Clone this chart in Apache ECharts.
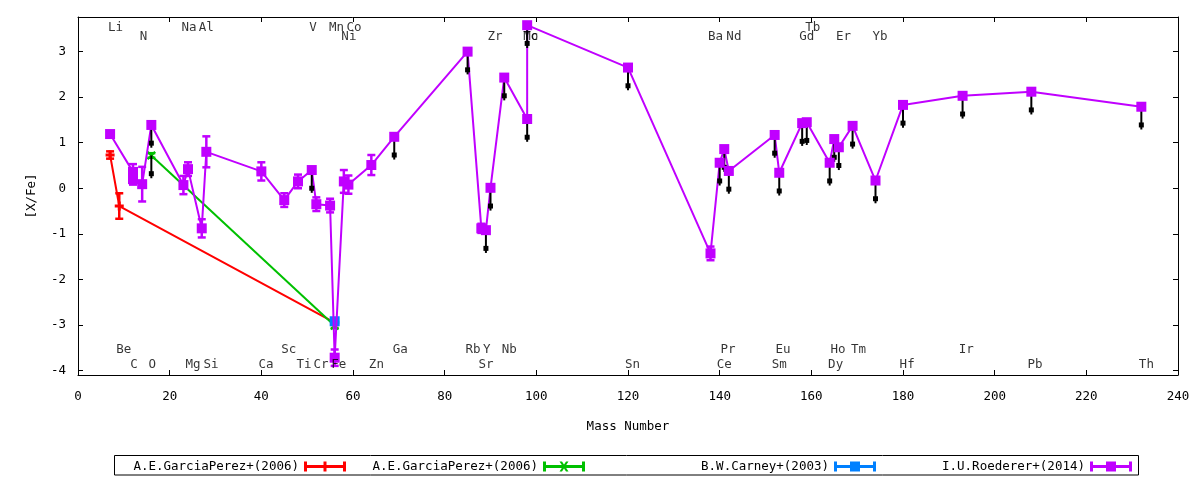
<!DOCTYPE html>
<html>
<head>
<meta charset="utf-8">
<title>[X/Fe] vs Mass Number</title>
<script src="https://cdn.jsdelivr.net/npm/echarts@6/dist/echarts.min.js"></script>
<style>
html, body { margin: 0; padding: 0; background: #fff; }
#chart { width: 1200px; height: 480px; }
</style>
</head>
<body>
<div id="chart"></div>
<script>
// A.E.GarciaPerez+(2006), red
var redMass = [7, 9, 56];
var redVal  = [0.73, -0.39, -2.95];
var redErr  = [0.08, 0.28, 0.05];

// A.E.GarciaPerez+(2006), green
var greenMass = [16, 56];
var greenVal  = [0.72, -3.02];
var greenErr  = [0.05, 0.05];

// B.W.Carney+(2003)
var blueMass = [56];
var blueVal  = [-2.92];
var blueErr  = [0.05];

// I.U.Roederer+(2014)
var purpleMass = [7, 12, 12, 14, 16, 23, 24, 27, 28, 40, 45, 48, 51, 52, 55, 56, 58, 59, 64, 69,
                  85, 88, 89, 90, 93, 98, 98, 120, 138, 140, 141, 142, 152, 153, 158, 159,
                  164, 165, 166, 169, 174, 180, 193, 208, 232];
var purpleVal  = [1.19, 0.36, 0.20, 0.09, 1.39, 0.07, 0.42, -0.88, 0.80, 0.37, -0.26, 0.15, 0.40, -0.35, -0.38, -3.72, 0.15, 0.08, 0.51, 1.13,
                  3.00, -0.88, -0.92, 0.01, 2.43, 1.52, 3.58, 2.65, -1.43, 0.56, 0.86, 0.38, 1.17, 0.34, 1.43, 1.45,
                  0.56, 1.08, 0.90, 1.37, 0.17, 1.83, 2.03, 2.12, 1.79];
var purpleErr  = [0, 0.17, 0.12, 0.38, 0, 0.20, 0.15, 0.20, 0.34, 0.20, 0.15, 0.15, 0, 0.15, 0.15, 0.18, 0.25, 0.20, 0.22, 0,
                  0, 0.10, 0, 0, 0, 0, 0, 0, 0.15, 0, 0, 0, 0, 0, 0, 0,
                  0, 0, 0, 0, 0, 0, 0, 0, 0];

// upper limit arrows (start value, pointing down)
var limitMass = [16, 16, 51, 69, 85, 89, 90, 93, 98, 98, 120, 140, 141, 142, 152, 153, 158, 159,
                 164, 165, 166, 169, 174, 180, 193, 208, 232];
var limitVal  = [1.39, 0.72, 0.40, 1.13, 3.00, -0.92, 0.01, 2.43, 1.52, 3.58, 2.65, 0.56, 0.86, 0.38, 1.17, 0.34, 1.43, 1.45,
                 0.56, 1.08, 0.90, 1.37, 0.17, 1.83, 2.03, 2.12, 1.79];
var limitLen = 0.5;

// element labels: name, x position (mass), row (0,1 top; 2,3 bottom)
var elemNames = ['Li', 'Na', 'Al', 'V', 'Mn', 'Co', 'Tb',
                 'N', 'Ni', 'Zr', 'Mo', 'Tc', 'Ba', 'Nd', 'Gd', 'Er', 'Yb',
                 'Be', 'Sc', 'Ga', 'Rb', 'Y', 'Nb', 'Pr', 'Eu', 'Ho', 'Tm', 'Ir',
                 'C', 'O', 'Mg', 'Si', 'Ca', 'Ti', 'Cr', 'Fe', 'Zn', 'Sr', 'Sn', 'Ce', 'Sm', 'Dy', 'Hf', 'Pb', 'Th'];
var elemPos   = [8.2, 24.2, 28.0, 51.3, 56.4, 60.2, 160.3,
                 14.3, 59.1, 91.0, 98.8, 98.8, 139.1, 143.1, 159.0, 167.0, 175.0,
                 10.0, 46.0, 70.3, 86.2, 89.2, 94.1, 141.8, 153.8, 165.8, 170.3, 193.8,
                 12.2, 16.2, 25.1, 29.0, 41.0, 49.3, 53.0, 56.9, 65.1, 89.0, 121.0, 141.0, 153.0, 165.3, 180.9, 208.8, 233.1];
var elemRow   = [0, 0, 0, 0, 0, 0, 0,
                 1, 1, 1, 1, 1, 1, 1, 1, 1, 1,
                 2, 2, 2, 2, 2, 2, 2, 2, 2, 2, 2,
                 3, 3, 3, 3, 3, 3, 3, 3, 3, 3, 3, 3, 3, 3, 3, 3, 3];

var yTicks = [-4, -3, -2, -1, 0, 1, 2, 3];

var FONT = 'DejaVu Sans Mono';
var FS = 12.5;
var RED = '#ff0000', GREEN = '#00c000', BLUE = '#0080ff', PURPLE = '#c000ff';
var rowY = [3.525, 3.316, -3.545, -3.864];

var plusSym = 'path://M3,0h3v3h3v3h-3v3h-3v-3h-3v-3h3z';
var crossSym = 'path://M0,1.5L1.5,0L4.5,3L7.5,0L9,1.5L6,4.5L9,7.5L7.5,9L4.5,6L1.5,9L0,7.5L3,4.5z';
var barBase = 'M0,0h3v10h-3z M39,0h3v10h-3z M0,3.5h42v3h-42z ';
var iconPlus = 'path://' + barBase + 'M19.5,0h3v10h-3z';
var iconCross = 'path://' + barBase + 'M16.5,0h2.5l6.5,10h-2.5z M23,0h2.5l-6.5,10h-2.5z';
var iconBox = 'path://' + barBase + 'M16,0h10v10h-10z';

function zip(a, b, c) {
	return a.map(function (v, i) { return c ? [v, b[i], c[i]] : [v, b[i]]; });
}

function errorBars(color) {
	return function (params, api) {
		var e = api.value(2);
		if (!e) return null;
		var x = api.value(0), y = api.value(1);
		var hi = api.coord([x, y + e]), lo = api.coord([x, y - e]);
		var w = 4, st = { stroke: color, lineWidth: 2.5 };
		return {
			type: 'group',
			children: [
				{ type: 'line', shape: { x1: hi[0], y1: hi[1], x2: lo[0], y2: lo[1] }, style: st },
				{ type: 'line', shape: { x1: hi[0] - w, y1: hi[1], x2: hi[0] + w, y2: hi[1] }, style: st },
				{ type: 'line', shape: { x1: lo[0] - w, y1: lo[1], x2: lo[0] + w, y2: lo[1] }, style: st }
			]
		};
	};
}

function limitArrow(params, api) {
	var x = api.value(0), y = api.value(1);
	var p0 = api.coord([x, y]), p1 = api.coord([x, y - limitLen]), h = api.coord([x, y - limitLen * 0.8]);
	return {
		type: 'group',
		children: [
			{ type: 'line', shape: { x1: p0[0], y1: p0[1], x2: p1[0], y2: p1[1] }, style: { stroke: '#000', lineWidth: 2 } },
			{ type: 'rect', shape: { x: h[0] - 2.5, y: h[1] - 2.5, width: 5, height: 5 }, style: { fill: '#000' } }
		]
	};
}

function legendAt(name, icon, color, right) {
	return {
		right: right, top: 460, padding: 0, align: 'right',
		itemWidth: 42, itemHeight: 10, selectedMode: false,
		textStyle: { color: '#000', fontFamily: FONT, fontSize: FS },
		data: [{ name: name, icon: icon, itemStyle: { color: color, borderWidth: 0 } }]
	};
}

var axisLine = { onZero: false, lineStyle: { color: '#000', width: 1 } };
var axisTick = { inside: true, length: 5, lineStyle: { color: '#000' } };

var chart = echarts.init(document.getElementById('chart'));
var option = {
	animation: false,
	backgroundColor: '#fff',
	grid: { left: 78, right: 22, top: 17, bottom: 105, outerBoundsMode: 'none' },
	legend: [
		legendAt('A.E.GarciaPerez+(2006)', iconPlus, RED, 854),
		legendAt('A.E.GarciaPerez+(2006)', iconCross, GREEN, 615),
		legendAt('B.W.Carney+(2003)', iconBox, BLUE, 324),
		legendAt('I.U.Roederer+(2014)', iconBox, PURPLE, 68)
	],
	graphic: [{
		type: 'rect', shape: { x: 114.5, y: 455.5, width: 1024, height: 19.5 },
		style: { fill: 'none', stroke: '#000', lineWidth: 1 }, silent: true
	}],
	xAxis: [{
		type: 'value', min: 0, max: 240, interval: 20, position: 'bottom',
		name: 'Mass Number', nameLocation: 'middle', nameGap: 45,
		nameTextStyle: { color: '#000', fontFamily: FONT, fontSize: FS },
		axisLine: axisLine, axisTick: axisTick,
		axisLabel: { margin: 15, color: '#000', fontFamily: FONT, fontSize: FS },
		splitLine: { show: false }
	}, {
		type: 'value', min: 0, max: 240, interval: 20, position: 'top',
		axisLine: axisLine, axisTick: axisTick,
		axisLabel: { show: false }, splitLine: { show: false }
	}],
	yAxis: [{
		type: 'value', min: -4.1, max: 3.76, position: 'left',
		name: '[X/Fe]', nameLocation: 'middle', nameGap: 40, nameRotate: 90,
		nameTextStyle: { color: '#000', fontFamily: FONT, fontSize: FS },
		axisLine: axisLine,
		axisTick: { inside: true, length: 5, lineStyle: { color: '#000' }, customValues: yTicks },
		axisLabel: { margin: 12, color: '#000', fontFamily: FONT, fontSize: FS, customValues: yTicks },
		splitLine: { show: false }
	}, {
		type: 'value', min: -4.1, max: 3.76, position: 'right',
		axisLine: axisLine,
		axisTick: { inside: true, length: 5, lineStyle: { color: '#000' }, customValues: yTicks },
		axisLabel: { show: false }, splitLine: { show: false }
	}],
	series: [
		{
			name: 'A.E.GarciaPerez+(2006)', type: 'line', z: 2, data: zip(redMass, redVal),
			symbol: plusSym, symbolSize: 9, showAllSymbol: true,
			itemStyle: { color: RED, borderWidth: 0 }, lineStyle: { color: RED, width: 2 }
		},
		{ type: 'custom', z: 2, data: zip(redMass, redVal, redErr), renderItem: errorBars(RED), encode: { x: 0, y: 1 }, silent: true },
		{
			name: 'A.E.GarciaPerez+(2006)', type: 'line', z: 3, data: zip(greenMass, greenVal),
			symbol: crossSym, symbolSize: 9, showAllSymbol: true,
			itemStyle: { color: GREEN, borderWidth: 0 }, lineStyle: { color: GREEN, width: 2 }
		},
		{ type: 'custom', z: 3, data: zip(greenMass, greenVal, greenErr), renderItem: errorBars(GREEN), encode: { x: 0, y: 1 }, silent: true },
		{
			name: 'B.W.Carney+(2003)', type: 'line', z: 4, data: zip(blueMass, blueVal),
			symbol: 'rect', symbolSize: 10, showAllSymbol: true,
			itemStyle: { color: BLUE, borderWidth: 0 }, lineStyle: { color: BLUE, width: 2 }
		},
		{ type: 'custom', z: 4, data: zip(blueMass, blueVal, blueErr), renderItem: errorBars(BLUE), encode: { x: 0, y: 1 }, silent: true },
		{
			name: 'I.U.Roederer+(2014)', type: 'line', z: 5, data: zip(purpleMass, purpleVal),
			showSymbol: false, lineStyle: { color: PURPLE, width: 2 }, itemStyle: { color: PURPLE }
		},
		{ type: 'custom', z: 5, data: zip(purpleMass, purpleVal, purpleErr), renderItem: errorBars(PURPLE), encode: { x: 0, y: 1 }, silent: true },
		{ type: 'custom', z: 6, data: zip(limitMass, limitVal), renderItem: limitArrow, encode: { x: 0, y: 1 }, silent: true },
		{
			name: 'I.U.Roederer+(2014)', type: 'scatter', z: 7, data: zip(purpleMass, purpleVal),
			symbol: 'rect', symbolSize: 10, itemStyle: { color: PURPLE, opacity: 1 }, silent: true
		},
		{
			type: 'scatter', z: 8, silent: true, symbolSize: 1,
			itemStyle: { color: 'rgba(0,0,0,0)' },
			data: elemNames.map(function (n, i) { return { name: n, value: [elemPos[i], rowY[elemRow[i]]] }; }),
			label: { show: true, position: 'inside', formatter: '{b}', color: '#000', fontFamily: FONT, fontSize: FS }
		}
	]
};
chart.setOption(option);
</script>
</body>
</html>
